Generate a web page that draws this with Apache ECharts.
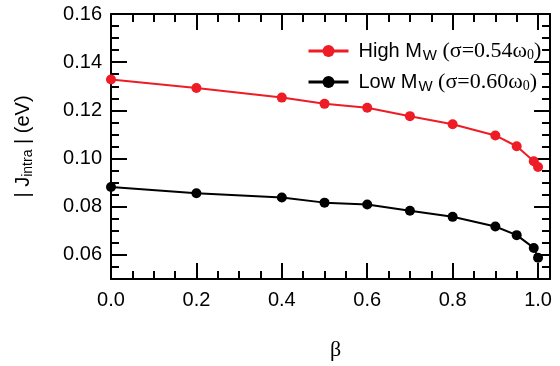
<!DOCTYPE html>
<html>
<head>
<meta charset="utf-8">
<script src="https://cdn.jsdelivr.net/npm/echarts@6/dist/echarts.min.js"></script>
<style>
  html, body { margin: 0; padding: 0; background: #fff; }
  #chart { width: 560px; height: 366px; }
</style>
</head>
<body>
<div id="chart"></div>
<script>
// β values along the horizontal axis
const betaValues = [0, 0.2, 0.4, 0.5, 0.6, 0.7, 0.8, 0.9, 0.95, 0.99, 1.0];
// |J_intra| (eV) for the two molecular weights
const highMw = [0.1328, 0.1293, 0.1253, 0.1227, 0.1211, 0.1176, 0.1142, 0.1096, 0.1051, 0.0989, 0.0965];
const lowMw = [0.0882, 0.0856, 0.0838, 0.0817, 0.0809, 0.0783, 0.0758, 0.0718, 0.0682, 0.0629, 0.0588];
const seriesNames = ['High MW', 'Low MW'];

// Tick positions
const xMajorTicks = [0, 0.2, 0.4, 0.6, 0.8, 1.0];
const xMinorTicks = [0.05, 0.1, 0.15, 0.25, 0.3, 0.35, 0.45, 0.5, 0.55, 0.65, 0.7, 0.75, 0.85, 0.9, 0.95];
const yMajorTicks = [0.06, 0.08, 0.10, 0.12, 0.14, 0.16];
const yMinorTicks = [0.055, 0.065, 0.07, 0.075, 0.085, 0.09, 0.095, 0.105, 0.11, 0.115, 0.125, 0.13, 0.135, 0.145, 0.15, 0.155];

const X_MIN = 0, X_MAX = 1.028;
const Y_MIN = 0.05, Y_MAX = 0.16;

const SANS = '"Liberation Sans", Arial, Helvetica, sans-serif';
const SERIF = '"Liberation Serif", "Times New Roman", serif';

function pairs(xs, ys) { return xs.map((x, i) => [x, ys[i]]); }

function axis(kind, position, ticks, len, withLabels, withLine, digits) {
  return {
    type: 'value',
    position: position,
    min: kind === 'x' ? X_MIN : Y_MIN,
    max: kind === 'x' ? X_MAX : Y_MAX,
    splitLine: { show: false },
    axisLine: { show: withLine, onZero: false, lineStyle: { color: '#000', width: 2 } },
    axisTick: { show: true, inside: true, length: len, customValues: ticks,
                lineStyle: { color: '#000', width: 2 } },
    axisLabel: { show: withLabels, customValues: ticks, color: '#000',
                 fontFamily: SANS, fontSize: 20, margin: kind === 'x' ? 11 : 9,
                 formatter: v => Number(v).toFixed(digits) }
  };
}

const xAxes = [
  axis('x', 'bottom', xMajorTicks, 16, true, true, 1),
  axis('x', 'bottom', xMinorTicks, 8, false, false, 1),
  axis('x', 'top', xMajorTicks, 16, false, true, 1),
  axis('x', 'top', xMinorTicks, 8, false, false, 1)
];
xAxes[0].name = 'β';
xAxes[0].nameLocation = 'middle';
xAxes[0].nameGap = 60;
xAxes[0].nameTextStyle = { fontFamily: SERIF, fontSize: 22, color: '#000', padding: [0, 0, 0, 10] };

const yAxes = [
  axis('y', 'left', yMajorTicks, 16, true, true, 2),
  axis('y', 'left', yMinorTicks, 8, false, false, 2),
  axis('y', 'right', yMajorTicks, 16, false, true, 2),
  axis('y', 'right', yMinorTicks, 8, false, false, 2)
];
yAxes[0].name = '| J{s|intra} | (eV)';
yAxes[0].nameLocation = 'middle';
yAxes[0].nameGap = 76;
yAxes[0].nameTextStyle = {
  fontFamily: SANS, fontSize: 20, color: '#000',
  rich: { s: { fontFamily: SANS, fontSize: 14, color: '#000', padding: [10, 0, 0, 0] } }
};

const legendText = {
  'High MW': '{a|High M}{s|W}{b| (σ=0.54ω}{t|0}{b|)}',
  'Low MW': '{a|Low M}{s|W}{b| (σ=0.60ω}{t|0}{b|)}'
};

const option = {
  animation: false,
  backgroundColor: '#fff',
  grid: { left: 111, right: 10, top: 14, bottom: 87, containLabel: false },
  xAxis: xAxes,
  yAxis: yAxes,
  legend: {
    orient: 'vertical',
    left: 302,
    top: 35,
    itemWidth: 40,
    itemHeight: 15,
    itemGap: 8,
    data: seriesNames,
    formatter: name => legendText[name],
    lineStyle: { width: 3 },
    textStyle: {
      color: '#000',
      rich: {
        a: { fontFamily: SANS, fontSize: 20, color: '#000', padding: [0, 0, 0, 5] },
        s: { fontFamily: SANS, fontSize: 15, color: '#000', padding: [9, 0, 0, 1] },
        b: { fontFamily: SERIF, fontSize: 22, color: '#000' },
        t: { fontFamily: SERIF, fontSize: 14, color: '#000', padding: [9, 0, 0, 0] }
      }
    }
  },
  series: [
    {
      name: seriesNames[0], type: 'line', xAxisIndex: 0, yAxisIndex: 0,
      data: pairs(betaValues, highMw),
      symbol: 'circle', symbolSize: 10,
      itemStyle: { color: '#ee1c25' },
      lineStyle: { color: '#ee1c25', width: 2 }
    },
    {
      name: seriesNames[1], type: 'line', xAxisIndex: 0, yAxisIndex: 0,
      data: pairs(betaValues, lowMw),
      symbol: 'circle', symbolSize: 10,
      itemStyle: { color: '#000' },
      lineStyle: { color: '#000', width: 2 }
    }
  ]
};

const chart = echarts.init(document.getElementById('chart'), null, { renderer: 'canvas' });
chart.setOption(option);
</script>
</body>
</html>
